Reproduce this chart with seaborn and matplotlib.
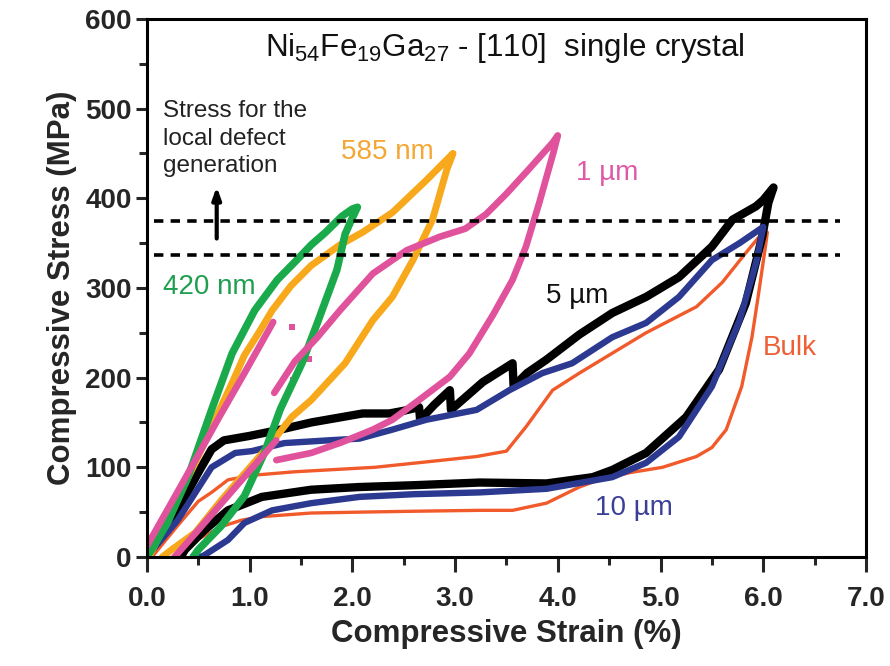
import matplotlib
matplotlib.use("Agg")
import matplotlib.pyplot as plt
import seaborn as sns
from matplotlib.ticker import MultipleLocator, FormatStrFormatter

# ---- data (strain %, stress MPa) ----
# 420 nm pillar (loading then unloading)
nm420_x = [0.03, 0.2, 0.4, 0.63, 0.83, 1.05, 1.27, 1.45, 1.6, 1.74, 1.9, 2.0, 2.05,
           2.0, 1.93, 1.85, 1.66, 1.51, 1.3, 1.14, 0.95, 0.72, 0.5, 0.45]
nm420_y = [5, 38, 89, 164, 227, 275, 309, 330, 348, 362, 380, 388, 390,
           378, 360, 320, 261, 216, 165, 115, 68, 34, 8, 0]

# 585 nm pillar
nm585_x = [0.02, 0.2, 0.45, 0.7, 0.83, 0.95, 1.1, 1.22, 1.4, 1.6, 1.88, 2.1, 2.39, 2.72, 2.92, 2.98,
           2.92, 2.78, 2.59, 2.39, 2.2, 1.93, 1.6, 1.41, 1.21, 0.92, 0.73, 0.47, 0.24, 0.15]
nm585_y = [0, 42, 100, 162, 194, 225, 252, 275, 302, 325, 348, 362, 384, 420, 443, 450,
           432, 376, 331, 290, 264, 216, 175, 156, 127, 89, 64, 27, 8, 0]

# 1 um pillar: loading up to the burst, loading after burst + unloading, last part of unloading
um1_a_x = [0.0, 0.35, 0.7, 0.95, 1.23]
um1_a_y = [12, 83, 155, 205, 262]
um1_b_x = [1.24, 1.44, 1.66, 1.88, 2.2, 2.53, 2.85, 3.1, 3.3, 3.5, 3.7, 3.95, 4.0,
           3.96, 3.82, 3.69, 3.56, 3.37, 3.14, 2.95, 2.65, 2.39, 2.2, 1.9, 1.6, 1.26]
um1_b_y = [183, 218, 245, 275, 316, 342, 357, 366, 382, 405, 430, 462, 470,
           452, 395, 346, 309, 270, 227, 201, 175, 153, 142, 128, 116, 108]
um1_c_x = [1.26, 1.0, 0.75, 0.5, 0.27]
um1_c_y = [130, 96, 63, 30, 0]
um1_dots_x = [1.41, 1.58, 1.42]
um1_dots_y = [256, 221, 197]

# 5 um pillar
um5_x = [0.0, 0.15, 0.3, 0.5, 0.63, 0.75, 1.0, 1.3, 1.6, 1.9, 2.1, 2.36, 2.5, 2.65, 2.66, 2.8, 2.95, 2.96,
         3.27, 3.56, 3.57, 3.7, 3.89, 4.21, 4.53, 4.86, 5.18, 5.5, 5.7, 5.93, 6.0, 6.1,
         6.05, 5.99, 5.83, 5.57, 5.25, 4.86, 4.53, 4.34, 3.89, 3.24, 2.6, 2.07, 1.6, 1.12, 0.79,
         0.56, 0.37, 0.33]
um5_y = [3, 25, 52, 94, 120, 130, 135, 142, 150, 156, 160, 160, 163, 167, 153, 170, 186, 164,
         195, 216, 190, 205, 220, 248, 272, 290, 312, 346, 376, 391, 398, 412,
         395, 357, 283, 209, 156, 116, 97, 89, 82, 83, 80, 78, 75, 67, 52,
         30, 8, 0]

# 10 um pillar
um10_x = [0.0, 0.3, 0.63, 0.86, 1.02, 1.34, 1.76, 2.07, 2.39, 2.72, 3.21, 3.53, 3.85, 4.14, 4.53,
          4.86, 5.18, 5.5, 5.77, 6.0,
          5.96, 5.93, 5.77, 5.5, 5.18, 4.86, 4.53, 3.89, 3.24, 2.6, 2.07, 1.6, 1.22, 0.95, 0.79,
          0.56, 0.52]
um10_y = [0, 41, 100, 116, 118, 127, 130, 132, 142, 153, 164, 186, 205, 216, 245,
          261, 290, 331, 350, 368,
          345, 328, 264, 190, 134, 105, 89, 76, 72, 70, 67, 60, 52, 38, 19,
          2, 0]

# bulk single crystal
bulk_x = [0.05, 0.3, 0.5, 0.63, 0.79, 1.02, 1.44, 2.22, 2.72, 3.21, 3.5, 3.69, 3.95, 4.21, 4.6,
          4.86, 5.35, 5.6, 5.83, 5.96, 6.04,
          6.02, 5.95, 5.89, 5.79, 5.64, 5.5, 5.35, 5.02, 4.7, 4.4, 4.21, 3.89, 3.56, 3.24, 2.6,
          2.07, 1.6, 1.12, 0.92, 0.73, 0.5, 0.3, 0.25]
bulk_y = [0, 35, 62, 72, 86, 91, 95, 100, 106, 112, 118, 145, 186, 205, 232,
          250, 279, 306, 339, 357, 362,
          345, 290, 245, 190, 142, 122, 112, 100, 94, 86, 78, 60, 52, 52, 51,
          50, 49, 45, 41, 34, 20, 5, 0]

defect_levels = [337, 375]
defect_span = [0.07, 6.75]

curve_labels = ["420 nm", "585 nm", "1 \u00b5m", "5 \u00b5m", "Bulk", "10 \u00b5m"]
label_x = [0.61, 2.34, 4.48, 4.19, 6.26, 4.74]
label_y = [301, 452, 428, 291, 233, 55]

c_green = "#1aaa4b"
c_orange = "#f7a81b"
c_pink = "#e0529c"
c_black = "#000000"
c_blue = "#2b3990"
c_bulk = "#f15a2a"
label_colors = ["#1f9e50", "#f5a733", "#e058a6", "#111111", "#ef5f35", "#3b3f98"]

sns.set_style("ticks")
plt.rcParams["font.family"] = ["Liberation Sans", "DejaVu Sans"]
plt.rcParams["mathtext.fontset"] = "custom"
plt.rcParams["mathtext.rm"] = "Liberation Sans"
plt.rcParams["mathtext.it"] = "Liberation Sans:italic"

fig = plt.figure(figsize=(8.9, 6.66), dpi=100)
ax = fig.add_axes([0.165, 0.1637, 0.808, 0.808])


def curve(xs, ys, color, lw):
    sns.lineplot(x=xs, y=ys, sort=False, estimator=None, color=color, lw=lw,
                 solid_joinstyle="round", solid_capstyle="round", ax=ax)


curve(bulk_x, bulk_y, c_bulk, 2.4)
curve(um5_x, um5_y, c_black, 6.0)
curve(um10_x, um10_y, c_blue, 4.6)
curve(nm585_x, nm585_y, c_orange, 5.0)
curve(nm420_x, nm420_y, c_green, 5.4)
curve(um1_a_x, um1_a_y, c_pink, 4.8)
curve(um1_b_x, um1_b_y, c_pink, 4.8)
curve(um1_c_x, um1_c_y, c_pink, 4.8)
sns.scatterplot(x=um1_dots_x, y=um1_dots_y, color=c_pink, marker="s", s=18,
                edgecolor="none", ax=ax)

for lvl in defect_levels:
    ax.plot(defect_span, [lvl, lvl], color="black", lw=2.6, ls=(0, (2.6, 2.0)))

ax.annotate("", xy=(0.68, 416), xytext=(0.68, 352),
            arrowprops=dict(arrowstyle="-|>,head_length=0.7,head_width=0.25",
                            color="black", lw=3))
ax.text(0.16, 509, "Stress for the\nlocal defect\ngeneration", fontsize=17.5,
        color="#222222", va="top", ha="left", linespacing=1.3)

ax.text(3.48, 568, r"Ni$_{54}$Fe$_{19}$Ga$_{27}$ - [110]  single crystal",
        fontsize=22.5, ha="center", va="center", color="#111111")

for t, x, y, c in zip(curve_labels, label_x, label_y, label_colors):
    ax.text(x, y, t, fontsize=20, color=c, ha="center", va="center")

ax.set_xlim(0, 7)
ax.set_ylim(0, 600)
ax.xaxis.set_major_locator(MultipleLocator(1))
ax.xaxis.set_minor_locator(MultipleLocator(0.5))
ax.yaxis.set_major_locator(MultipleLocator(100))
ax.yaxis.set_minor_locator(MultipleLocator(50))
ax.xaxis.set_major_formatter(FormatStrFormatter("%.1f"))

for s in ax.spines.values():
    s.set_linewidth(2.2)
    s.set_color("black")
ax.tick_params(axis="x", which="major", direction="out", length=11, width=2.2,
               labelsize=20, pad=10)
ax.tick_params(axis="y", which="major", direction="out", length=8, width=2.2,
               labelsize=20, pad=3)
ax.tick_params(which="minor", direction="out", length=6, width=2.2)
ax.tick_params(top=False, right=False, which="both")
for lab in ax.get_xticklabels() + ax.get_yticklabels():
    lab.set_fontweight("bold")

ax.set_xlabel("Compressive Strain (%)", fontsize=22.5, fontweight="bold", labelpad=5)
ax.set_ylabel("Compressive Stress (MPa)", fontsize=22.5, fontweight="bold", labelpad=6)

fig.savefig("out.png", dpi=100)
